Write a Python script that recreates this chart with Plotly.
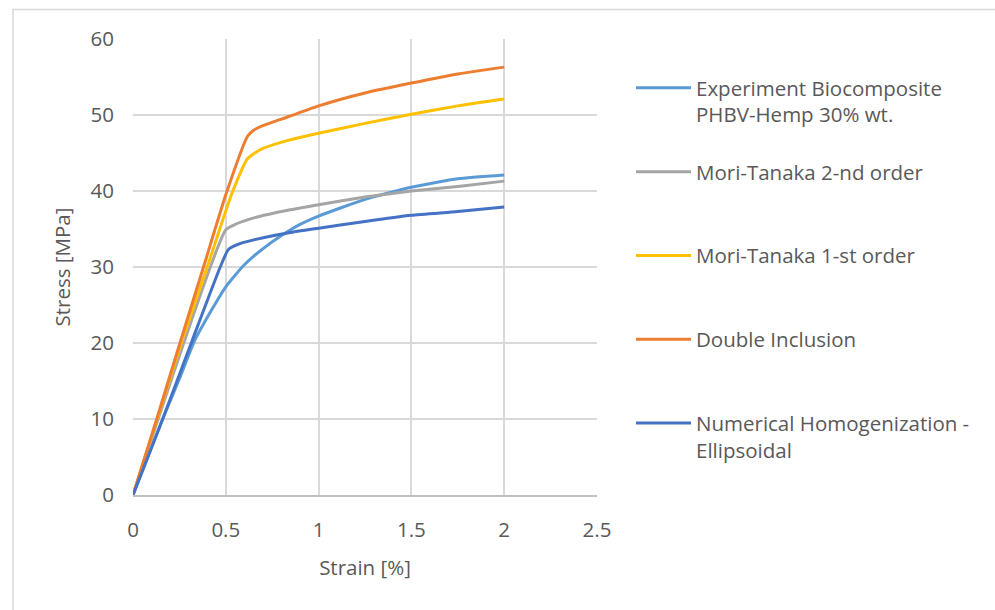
import plotly.graph_objects as go

# ---- data ----
exp_x = [0, 0.08, 0.16, 0.25, 0.334, 0.42, 0.5, 0.6, 0.7, 0.81, 0.9, 1.0, 1.25, 1.5, 1.75, 2.0]
exp_y = [0, 5.0, 10.0, 15.3, 20.4, 24.2, 27.4, 30.3, 32.4, 34.3, 35.6, 36.7, 38.9, 40.5, 41.6, 42.1]

mt2_x = [0, 0.5, 0.55, 0.656, 0.84, 1.0, 1.25, 1.5, 1.75, 2.0]
mt2_y = [0, 34.9, 35.6, 36.5, 37.5, 38.2, 39.2, 40.0, 40.6, 41.3]

mt1_x = [0, 0.13, 0.26, 0.40, 0.53, 0.612, 0.65, 0.70, 0.84, 1.0, 1.25, 1.5, 1.75, 2.0]
mt1_y = [0, 10.0, 20.0, 30.0, 39.5, 44.1, 44.9, 45.6, 46.7, 47.6, 48.9, 50.1, 51.2, 52.1]

di_x = [0, 0.128, 0.253, 0.38, 0.5, 0.617, 0.65, 0.70, 0.84, 1.0, 1.25, 1.5, 1.75, 2.0]
di_y = [0, 10.0, 20.0, 30.0, 39.5, 47.2, 48.0, 48.6, 49.8, 51.2, 52.9, 54.2, 55.4, 56.3]

nh_x = [0, 0.16, 0.32, 0.47, 0.514, 0.58, 0.656, 0.84, 1.0, 1.25, 1.5, 1.75, 2.0]
nh_y = [0, 10.0, 20.4, 30.0, 32.3, 33.1, 33.6, 34.5, 35.1, 36.0, 36.8, 37.3, 37.9]

names = [
    "Experiment Biocomposite<br>PHBV-Hemp 30% wt.",
    "Mori-Tanaka 2-nd order<br> ",
    "Mori-Tanaka 1-st order<br> ",
    "Double Inclusion<br> ",
    "Numerical Homogenization -<br>Ellipsoidal",
]
colors = ["#5B9BD5", "#A5A5A5", "#FFC000", "#ED7D31", "#4472C4"]
series = [(exp_x, exp_y), (mt2_x, mt2_y), (mt1_x, mt1_y), (di_x, di_y), (nh_x, nh_y)]

x_ticks = [0, 0.5, 1, 1.5, 2, 2.5]
x_ticklabels = ["0", "0.5", "1", "1.5", "2", "2.5"]
y_ticks = [0, 10, 20, 30, 40, 50, 60]

FONT = "Open Sans"
TXT = "#595959"
GRID = "#D9D9D9"
FS = 20.5

fig = go.Figure()
for i, ((xs, ys), nm, c) in enumerate(zip(series, names, colors)):
    fig.add_trace(go.Scatter(
        x=xs, y=ys, mode="lines", name=nm,
        line=dict(color=c, width=3, shape="spline", smoothing=0.5),
        legendgroup=f"g{i}",
    ))

W, H = 995, 610
L, R, T, B = 133, 398, 39, 115
pw, ph = W - L - R, H - T - B

def px2paper_x(px):
    return (px - L) / pw

def py2paper_y(py):
    return (H - B - py) / ph

fig.update_layout(
    width=W, height=H, autosize=False,
    margin=dict(l=L, r=R, t=T, b=B, pad=0),
    paper_bgcolor="white", plot_bgcolor="white",
    font=dict(family=FONT, size=FS, color=TXT),
    showlegend=True,
    legend=dict(
        x=px2paper_x(631), y=py2paper_y(68), xanchor="left", yanchor="top",
        traceorder="grouped", tracegroupgap=27.5, valign="top",
        font=dict(family=FONT, size=FS, color=TXT),
        itemwidth=55, bgcolor="rgba(0,0,0,0)",
    ),
    xaxis=dict(
        range=[0, 2.5], tickmode="array", tickvals=x_ticks, ticktext=x_ticklabels,
        showgrid=True, gridcolor=GRID, gridwidth=1.5, zeroline=False,
        showline=True, linecolor="#BFBFBF", linewidth=1.5,
        ticks="", ticklabelstandoff=16,
        title=dict(text="Strain [%]", standoff=18, font=dict(family=FONT, size=FS, color=TXT)),
        fixedrange=True,
    ),
    yaxis=dict(
        range=[0, 60], tickmode="array", tickvals=y_ticks,
        showgrid=True, gridcolor=GRID, gridwidth=1.5, zeroline=False,
        showline=False, ticks="", ticklabelstandoff=18,
        title=dict(text="Stress [MPa]", standoff=14, font=dict(family=FONT, size=FS, color=TXT)),
        fixedrange=True,
    ),
    shapes=[dict(
        type="rect", xref="paper", yref="paper",
        x0=px2paper_x(13), x1=px2paper_x(1010),
        y0=py2paper_y(625), y1=py2paper_y(9.5),
        line=dict(color=GRID, width=1.5), fillcolor="rgba(0,0,0,0)", layer="below",
    )],
)

fig.write_html("out.html")
